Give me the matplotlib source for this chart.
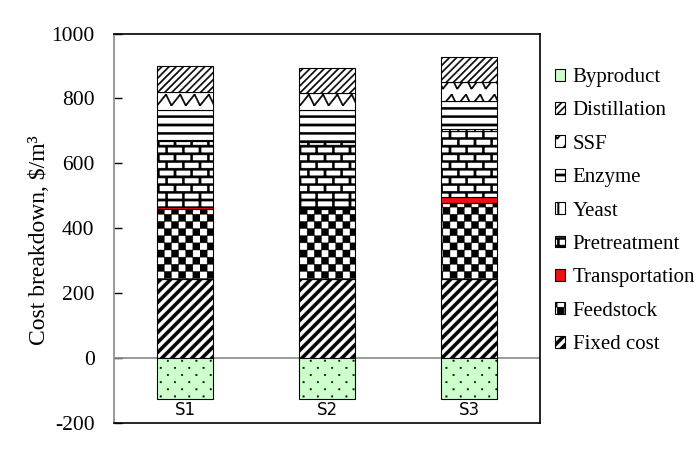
import warnings
warnings.filterwarnings('ignore')
import numpy as np
import matplotlib
matplotlib.use('Agg')
import matplotlib.pyplot as plt
import matplotlib.hatch as mhatch
from matplotlib.path import Path
from matplotlib.patches import Patch

# ---------------- data ----------------
categories = ['S1', 'S2', 'S3']
fixed_cost = [245, 245, 245]
feedstock = [214, 213, 233]
transportation = [5, 5, 17]
pretreatment = [205, 202, 205]
yeast = [4, 4, 5]
enzyme = [92, 96, 86]
ssf = [54, 51, 61]
distillation = [80, 79, 76]
byproduct = [-125, -125, -125]

series_names = ['Fixed cost', 'Feedstock', 'Transportation', 'Pretreatment',
                'Yeast', 'Enzyme', 'SSF', 'Distillation']
series_values = [fixed_cost, feedstock, transportation, pretreatment,
                 yeast, enzyme, ssf, distillation]
legend_order = ['Byproduct', 'Distillation', 'SSF', 'Enzyme', 'Yeast',
                'Pretreatment', 'Transportation', 'Feedstock', 'Fixed cost']
yticks = [-200, 0, 200, 400, 600, 800, 1000]


# ---------------- custom hatch textures ----------------
def _seg(p, q, t):
    p = np.asarray(p, float)
    q = np.asarray(q, float)
    d = q - p
    n = np.array([-d[1], d[0]])
    n = n / np.hypot(*n) * t / 2
    return np.array([p + n, q + n, q - n, p - n])


def _rect(x0, y0, x1, y1):
    return np.array([[x0, y0], [x1, y0], [x1, y1], [x0, y1]], float)


def _diag(period, t):
    out = []
    k = int(np.ceil(1.3 / period)) + 1
    for i in range(-k, k + 1):
        c = i * period
        out.append(_seg((-0.3, -0.3 + c), (1.3, 1.3 + c), t))
    return out


def _hlines(n, t):
    return [_rect(-0.05, k / n - t / 2, 1.05, k / n + t / 2) for k in range(n + 1)]


def _vlines(n, t):
    return [_rect(k / n - t / 2, -0.05, k / n + t / 2, 1.05) for k in range(n + 1)]


def _checker(n):
    out = []
    s = 1.0 / n
    for i in range(n):
        for j in range(n):
            if (i + j) % 2 == 0:
                out.append(_rect(i * s, j * s, (i + 1) * s, (j + 1) * s))
    return out


def _bricks(rows, cols, t):
    out = _hlines(rows, t)
    h = 1.0 / rows
    w = 1.0 / cols
    for r in range(rows):
        off = 0.0 if r % 2 == 0 else 0.5
        for c in range(-1, cols + 1):
            xx = (c + off) * w
            out.append(_rect(xx - t / 2, r * h, xx + t / 2, (r + 1) * h))
    return out


def _zigzag(rows, per, amp, t):
    out = []
    h = 1.0 / rows
    p = 1.0 / per
    for r in range(rows + 1):
        y0 = r * h - amp / 2
        for c in range(-1, per + 1):
            x0 = c * p
            out.append(_seg((x0, y0), (x0 + 0.62 * p, y0 + amp), t))
            out.append(_seg((x0 + 0.62 * p, y0 + amp), (x0 + p, y0), t))
    return out


def _dots(rows, cols, s):
    out = []
    h = 1.0 / rows
    w = 1.0 / cols
    for r in range(rows + 1):
        off = 0.25 if r % 2 == 0 else 0.75
        for c in range(-1, cols + 1):
            cx = (c + off) * w
            cy = (r + 0.5) * h
            out.append(_rect(cx - s / 2, cy - s / 2, cx + s / 2, cy + s / 2))
    return out


_BUILDERS = {
    'A': lambda: _diag(0.1, 0.032),          # fixed cost: thick diagonals
    'B': lambda: _checker(14),               # feedstock: checkerboard
    'C': lambda: _bricks(13, 6, 0.022),      # pretreatment: bricks
    'D': lambda: _vlines(12, 0.015),         # yeast: vertical lines
    'E': lambda: _hlines(12, 0.022),         # enzyme: horizontal lines
    'F': lambda: _zigzag(6, 7, 0.11, 0.013), # SSF: zigzag
    'G': lambda: _diag(1 / 14, 0.012),       # distillation: thin diagonals
    'H': lambda: _dots(14, 7, 0.014),        # byproduct: dots
}
_CACHE = {}


class _CustomHatch(mhatch.HatchPatternBase):
    def __init__(self, hatch, density):
        self.items = []
        for ch, builder in _BUILDERS.items():
            if hatch and ch in hatch:
                if ch not in _CACHE:
                    _CACHE[ch] = builder()
                self.items.extend(_CACHE[ch])
        self.num_vertices = sum(len(v) + 1 for v in self.items)

    def set_vertices_and_codes(self, vertices, codes):
        i = 0
        for v in self.items:
            n = len(v)
            vertices[i:i + n] = v
            codes[i] = Path.MOVETO
            codes[i + 1:i + n] = Path.LINETO
            i += n
            vertices[i] = v[0]
            codes[i] = Path.CLOSEPOLY
            i += 1


mhatch._hatch_types.append(_CustomHatch)

HATCH = {'Fixed cost': 'A', 'Feedstock': 'B', 'Transportation': None,
         'Pretreatment': 'C', 'Yeast': 'D', 'Enzyme': 'E', 'SSF': 'F',
         'Distillation': 'G', 'Byproduct': 'H'}
FACE = {'Transportation': '#EE1111', 'Byproduct': '#CCFFCC'}

# ---------------- figure ----------------
plt.rcParams['font.family'] = ['Liberation Serif', 'DejaVu Serif']
plt.rcParams['axes.unicode_minus'] = False
plt.rcParams['hatch.linewidth'] = 0.3
plt.rcParams['hatch.color'] = 'black'

fig = plt.figure(figsize=(6.97, 4.55), dpi=100)
ax = fig.add_axes([114 / 697, 1 - 423 / 455, (540 - 114) / 697, (423 - 33.5) / 455])

x = np.arange(len(categories))
width = 0.4
bottom = np.zeros(len(categories))
for name, vals in zip(series_names, series_values):
    vals = np.asarray(vals, float)
    ax.bar(x, vals, width, bottom=bottom, color=FACE.get(name, 'white'),
           edgecolor='black', linewidth=0.8, hatch=HATCH[name], zorder=3)
    bottom += vals
ax.bar(x, byproduct, width, color=FACE['Byproduct'], edgecolor='black',
       linewidth=0.8, hatch=HATCH['Byproduct'], zorder=3)

ax.axhline(0, color='#888888', lw=1.2, zorder=2)
ax.set_xlim(-0.5, len(categories) - 0.5)
ax.set_ylim(yticks[0], yticks[-1])
ax.set_yticks(yticks)
ax.set_xticks(x)
ax.set_xticklabels(categories, fontfamily='DejaVu Sans', fontsize=12)
ax.tick_params(axis='x', length=0, pad=-15.5)
ax.tick_params(axis='y', direction='in', length=6, width=1, color='black',
               labelsize=15.5, pad=14)

for side in ['top', 'right', 'bottom']:
    ax.spines[side].set_color('black')
    ax.spines[side].set_linewidth(1.2)
ax.spines['left'].set_color('#888888')
ax.spines['left'].set_linewidth(1.2)

ax.set_ylabel('Cost breakdown, $/m³', fontsize=17)
ax.yaxis.set_label_coords(-0.15, 0.47)

handles = [Patch(facecolor=FACE.get(n, 'white'), edgecolor='black',
                 linewidth=0.8, hatch=HATCH[n]) for n in legend_order]
fig.legend(handles, legend_order, loc='upper left',
           bbox_to_anchor=(555 / 697, 1 - 68 / 455), frameon=False,
           fontsize=15, handlelength=0.5, handleheight=0.5,
           handletextpad=0.35, labelspacing=0.69, borderpad=0,
           borderaxespad=0)

fig.savefig('out.png', dpi=100)
